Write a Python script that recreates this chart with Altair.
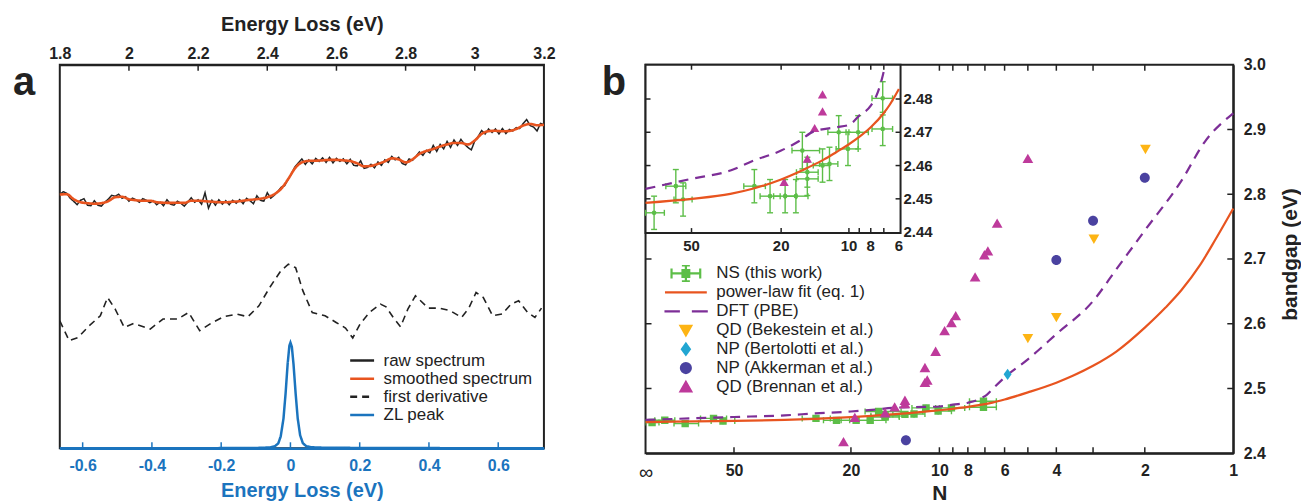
import altair as alt
import pandas as pd

FONT = "Liberation Sans"
INK = "#222222"
BLUE = "#1B74BE"
ORANGE = "#E8541F"
GREEN = "#5DBE48"
PURPLE = "#7D2E97"
MAGENTA = "#BE3A9B"
YELLOW = "#FDB414"
CYAN = "#22A6D2"
NAVY = "#4A42A0"

# ================= Panel a data =================
top_ticks_E = [1.8, 2.0, 2.2, 2.4, 2.6, 2.8, 3.0, 3.2]
bot_ticks_E = [-0.6, -0.4, -0.2, 0.0, 0.2, 0.4, 0.6]

raw_E = [round(1.80 + 0.01 * i, 2) for i in range(141)]
raw_I = [255, 257.5, 256, 251, 248, 244.5, 249, 250.5, 244, 243.5,
         248.5, 244, 243, 247, 250, 254, 253, 255, 251, 252.5,
         248, 251, 249.5, 247, 250.5, 249, 246.5, 248.5, 244.5, 247,
         243.5, 249.5, 245, 244, 248, 246, 243, 247, 251.5, 247,
         249.5, 245, 256.5, 241, 249, 244, 249.5, 245, 248.5, 244.5,
         249, 246, 249.5, 245.5, 251, 248.5, 245.5, 253.5, 249, 248,
         256.5, 251, 254, 257.5, 262, 263.5, 270, 275.5, 282.5, 286.5,
         290.5, 285, 289.5, 285.5, 291, 288, 291.5, 287, 292, 286.5,
         291, 288, 290.5, 285.5, 290, 284, 283.5, 288.5, 281, 282,
         285, 281.5, 287.5, 284, 289.5, 287, 293, 289.5, 292, 286,
         284.5, 290.5, 289, 293, 297.5, 294, 299, 296.5, 304, 298,
         305, 300.5, 308, 302, 309.5, 304, 310, 305.5, 302, 299.5,
         308.5, 313, 319, 315.5, 320.5, 317, 320.5, 315.5, 321, 316,
         320, 318.5, 322, 321, 326, 330, 324, 322.5, 318.5, 326,
         325]

smooth_E = [round(1.80 + 0.02 * i, 2) for i in range(71)]
smooth_I = [254.7, 255, 250, 247, 246, 245.5, 246, 248, 252, 252.5,
            250, 249, 248.5, 248.5, 247, 246.5, 246.3, 246.5, 246.3, 248.5,
            248.5, 248, 247.5, 247, 247, 247.5, 248, 249, 249.7, 250.5,
            252, 255, 260.5, 270, 281, 287, 288.5, 288.7, 289, 289.5,
            289.5, 289, 288.3, 286, 283, 283.5, 285.5, 288, 291, 290,
            287, 290, 295.5, 298.5, 300.5, 303, 305, 306.5, 306.5, 305,
            309, 315.5, 318.3, 318.7, 318.2, 318.5, 320.5, 324, 325.5, 324.3,
            324.7]

deriv_E = [-0.666, -0.639, -0.613, -0.581, -0.549, -0.528, -0.506, -0.48, -0.453, -0.405,
           -0.368, -0.326, -0.294, -0.262, -0.23, -0.193, -0.155, -0.123, -0.091, -0.06,
           -0.028, -0.006, 0.015, 0.036, 0.063, 0.1, 0.132, 0.159, 0.18, 0.201,
           0.228, 0.26, 0.276, 0.297, 0.318, 0.339, 0.361, 0.398, 0.43, 0.462,
           0.494, 0.515, 0.536, 0.557, 0.584, 0.611, 0.637, 0.659, 0.685, 0.706, 0.725]
deriv_I = [128, 108, 111.3, 123, 133, 151.3, 139.7, 121.3, 125.3, 119.7,
           129.7, 129.7, 136.3, 118, 125.3, 132, 134.7, 132, 143, 161.3,
           178, 184.7, 181.3, 158, 136.3, 133, 126.3, 120.7, 110.7, 124.7,
           136.3, 144.7, 142, 131.3, 122, 139.7, 153, 140.7, 140.7, 138,
           131.3, 140.7, 156.3, 151.3, 133, 134.7, 144.7, 148, 136.3, 131.3, 140.7]

zl_E = [-0.666, -0.3, -0.1, -0.06, -0.045, -0.035, -0.028, -0.02, -0.014, -0.008, -0.003,
        0.0, 0.004, 0.009, 0.015, 0.021, 0.028, 0.036, 0.046, 0.06, 0.1, 0.3, 0.732]
zl_I = [0, 0, 0.3, 0.8, 2, 5, 12, 30, 55, 85, 103,
        106, 102, 84, 55, 30, 13, 5, 2, 1, 0.5, 0.2, 0]

series_dom = ["raw spectrum", "smoothed spectrum", "first derivative", "ZL peak"]
series_col = [INK, ORANGE, INK, BLUE]
series_dash = [[1, 0], [1, 0], [7, 5], [1, 0]]

# ================= Panel b data =================
N_labels = [100, 50, 20, 10, 8, 6, 4, 2, 1]
N_minor = [50, 20, 10, 9, 8, 7, 6, 5, 4, 3, 2]
gap_ticks = [2.4, 2.5, 2.6, 2.7, 2.8, 2.9, 3.0]

fit_N = [100, 80, 50, 33.6, 26.5, 20, 17, 15, 13, 11.4, 10, 9, 8, 7, 6.6, 6, 5, 4, 3.5, 3, 2.5, 2, 1.7, 1.5, 1.3, 1.15, 1]
fit_E = [2.4482, 2.4488, 2.4500, 2.4515, 2.4531, 2.4558, 2.4578, 2.4596, 2.4617, 2.4640, 2.4664, 2.4686,
         2.4715, 2.4758, 2.4782, 2.4830, 2.494, 2.509, 2.520, 2.535, 2.557, 2.594, 2.625, 2.652, 2.69, 2.73, 2.778]

dft_N = [100, 80, 50, 33.6, 26.5, 20, 16.5, 14.4, 11.4, 10, 9, 8, 7.45, 7.08, 6.9, 6.5, 6, 5, 4, 3, 2.5, 2, 1.5, 1.25, 1]
dft_E = [2.4515, 2.453, 2.456, 2.4585, 2.4615, 2.4645, 2.4675, 2.4702, 2.4715, 2.4722, 2.475, 2.478,
         2.482, 2.487, 2.4903, 2.502, 2.517, 2.545, 2.584, 2.635, 2.684, 2.744, 2.821, 2.881, 2.925]

ns_N = [95, 86, 73.3, 58.7, 54.5, 26.3, 22.4, 19.2, 17.2, 16.1, 15.3, 15.3, 13.1, 12.2, 11.1, 10.1, 9.1, 7.08, 7.08]
ns_E = [2.4475, 2.451, 2.4458, 2.4538, 2.4498, 2.4538, 2.4508, 2.4508, 2.4508, 2.4645, 2.458, 2.456,
        2.460, 2.4605, 2.470, 2.465, 2.470, 2.4802, 2.471]
ns_Nlo = [90, 79.5, 66, 53, 49.7, 23.5, 20.2, 17.1, 15.2, 13.5, 13.7, 13.7, 12.2, 11.2, 10.0, 9.1, 8.2, 6.4, 6.4]
ns_Nhi = [100, 93, 80, 65, 59.8, 29.3, 24.8, 21.6, 19.2, 17.9, 17.1, 17.1, 14.4, 13.5, 12.4, 11.4, 10.3, 7.9, 7.9]
ns_Eerr = [0.005, 0.005, 0.005, 0.005, 0.005, 0.005, 0.005, 0.005, 0.005, 0.0055, 0.0045, 0.005,
           0.005, 0.005, 0.005, 0.005, 0.005, 0.005, 0.005]

bek_N = [5.0, 4.0, 2.98, 1.99]
bek_E = [2.5774, 2.610, 2.731, 2.8695]
bert_N = [5.86]
bert_E = [2.5218]
akk_N = [13.0, 4.0, 3.0, 2.0]
akk_E = [2.420, 2.6985, 2.759, 2.8254]
bren_N = [21.2, 19.4, 15.3, 14.2, 13.1, 13.1, 11.2, 11.0, 11.2, 10.3, 9.6, 9.1, 8.8, 7.56, 7.03, 6.84, 6.36, 5.0]
bren_E = [2.4175, 2.455, 2.462, 2.4712, 2.4762, 2.4813, 2.509, 2.5126, 2.532, 2.557, 2.589, 2.6015,
          2.612, 2.672, 2.706, 2.712, 2.755, 2.855]

inset_N_labels = [50, 20, 10, 8, 6]
inset_N_minor = [50, 20, 10, 9, 8, 7]
inset_E_labels = [2.44, 2.45, 2.46, 2.47, 2.48]
inset_E_ticks = [2.45, 2.46, 2.47, 2.48]

grp_dom = ["NS (this work)", "power-law fit (eq. 1)", "DFT (PBE)", "QD (Bekestein et al.)",
           "NP (Bertolotti et al.)", "NP (Akkerman et al.)", "QD (Brennan et al.)"]
grp_col = [GREEN, ORANGE, PURPLE, YELLOW, CYAN, NAVY, MAGENTA]
P_ERR = "M-0.72,0H0.72M-0.72,-0.25V0.25M0.72,-0.25V0.25M0,-0.4V0.4M-0.2,-0.4H0.2M-0.2,0.4H0.2M-0.17,-0.17H0.17V0.17H-0.17Z"
P_LINE = "M-1.05,0H1.05"
P_DASH = "M-1.1,0H-0.3M0.3,0H1.1"
P_TDOWN = "M-0.27,-0.22H0.27L0,0.25Z"
P_DIAM = "M0,-0.28L0.2,0L0,0.28L-0.2,0Z"
P_CIRC = "M-0.25,0A0.25,0.25,0,1,0,0.25,0A0.25,0.25,0,1,0,-0.25,0Z"
P_TUP = "M-0.27,0.22H0.27L0,-0.25Z"
grp_shape = [P_ERR, P_LINE, P_DASH, P_TDOWN, P_DIAM, P_CIRC, P_TUP]

# ================= Panel a =================
WA, HA = 486, 385
x_top = alt.Scale(domain=[1.8, 3.2], nice=False, zero=False)
x_bot = alt.Scale(domain=[-0.666, 0.732], nice=False, zero=False)
y_a = alt.Scale(domain=[0, 385], nice=False, zero=True)

legend_a = alt.Legend(orient="none", legendX=290, legendY=289, title=None, padding=0,
                      labelFontSize=17, labelFont=FONT, labelColor=INK, symbolType="stroke",
                      symbolSize=576, symbolStrokeWidth=2.5, clipHeight=16, rowPadding=1.2,
                      labelOffset=8, labelLimit=0)
color_a = alt.Color("series:N", scale=alt.Scale(domain=series_dom, range=series_col), legend=legend_a)
dash_a = alt.StrokeDash("series:N", scale=alt.Scale(domain=series_dom, range=series_dash), legend=legend_a)

top_axis = alt.Axis(orient="top", values=top_ticks_E, format="~g", ticks=False, labelFlush=False,
                    labelOverlap=False, labelPadding=3, labelFontSize=16, labelFontWeight="bold",
                    labelColor=INK, domainColor=INK, domainWidth=2, title="Energy Loss (eV)",
                    titleFontSize=20, titleFontWeight="bold", titleColor=INK, titlePadding=11, grid=False)
bot_axis = alt.Axis(orient="bottom", values=bot_ticks_E, format="~g",
                    labelExpr="replace(datum.label, '\u2212', '-')",
                    ticks=False, labelFlush=False,
                    labelOverlap=False, labelPadding=9, labelFontSize=16, labelFontWeight="bold",
                    labelColor=BLUE, domainColor=BLUE, domainWidth=2.5, title="Energy Loss (eV)",
                    titleFontSize=20, titleFontWeight="bold", titleColor=BLUE, titleY=32,
                    titleBaseline="top", grid=False)

df_raw = pd.DataFrame({"E": raw_E, "I": raw_I, "series": "raw spectrum"})
df_smooth = pd.DataFrame({"E": smooth_E, "I": smooth_I, "series": "smoothed spectrum"})
df_deriv = pd.DataFrame({"Eb": deriv_E, "I": deriv_I, "series": "first derivative"})
df_zl = pd.DataFrame({"Eb": zl_E, "I": zl_I, "series": "ZL peak"})

raw = alt.Chart(df_raw).mark_line(strokeWidth=1.5).encode(
    x=alt.X("E:Q", scale=x_top, axis=top_axis),
    y=alt.Y("I:Q", scale=y_a, axis=None),
    color=color_a, strokeDash=dash_a)
smooth = alt.Chart(df_smooth).mark_line(strokeWidth=2.6, interpolate="monotone").encode(
    x=alt.X("E:Q", scale=x_top, axis=top_axis),
    y=alt.Y("I:Q", scale=y_a, axis=None),
    color=color_a, strokeDash=dash_a)
top_tk = alt.Chart(pd.DataFrame({"E": top_ticks_E[1:-1]})).mark_rule(color=INK, strokeWidth=1.5).encode(
    x=alt.X("E:Q", scale=x_top, axis=top_axis), y=alt.value(0), y2=alt.value(6))
a_lab = alt.Chart(pd.DataFrame({"t": ["a"]})).mark_text(
    fontSize=40, fontWeight="bold", align="left", baseline="alphabetic", color=INK, font=FONT).encode(
    text="t:N", x=alt.value(-47), y=alt.value(30))

deriv = alt.Chart(df_deriv).mark_line(strokeWidth=1.6).encode(
    x=alt.X("Eb:Q", scale=x_bot, axis=bot_axis),
    y=alt.Y("I:Q", scale=y_a, axis=None),
    color=color_a, strokeDash=dash_a)
zl = alt.Chart(df_zl).mark_line(strokeWidth=2.5).encode(
    x=alt.X("Eb:Q", scale=x_bot, axis=bot_axis),
    y=alt.Y("I:Q", scale=y_a, axis=None),
    color=color_a, strokeDash=dash_a)
bot_tk = alt.Chart(pd.DataFrame({"Eb": bot_ticks_E})).mark_rule(color=BLUE, strokeWidth=1.5).encode(
    x=alt.X("Eb:Q", scale=x_bot, axis=bot_axis), y=alt.value(HA), y2=alt.value(HA - 6))

panel_a = alt.layer(
    alt.layer(raw, smooth, top_tk, a_lab),
    alt.layer(deriv, zl, bot_tk),
).resolve_scale(x="independent").properties(width=WA, height=HA)

# ================= Panel b =================
WB, HB = 590, 390
IW, IH = 256, 169
x_main = alt.Scale(type="log", domain=[1, 100], reverse=True, nice=False)
y_main = alt.Scale(domain=[2.4, 3.0], nice=False, zero=False)
x_in = alt.Scale(type="log", domain=[5.9, 80], range=[IW, 0], nice=False)
y_in = alt.Scale(domain=[2.4397, 2.4903], range=[IH, 0], nice=False, zero=False)

x_axis_b = alt.Axis(orient="bottom", values=N_labels, format="~g",
                    labelExpr="datum.value >= 100 ? '\u221e' : datum.label",
                    ticks=False, labelFlush=False, labelOverlap=False, labelPadding=9,
                    labelFontSize={"condition": {"test": "datum.value >= 100", "value": 20}, "value": 16},
                    labelFontWeight={"condition": {"test": "datum.value >= 100", "value": "normal"}, "value": "bold"},
                    labelColor=INK, domainColor=INK, domainWidth=2, title="N", titleFontSize=21,
                    titleFontWeight="bold", titleColor=INK, titleY=29, titleBaseline="top", grid=False)
y_axis_b = alt.Axis(orient="right", values=gap_ticks, format=".1f", ticks=False, labelFlush=False,
                    labelOverlap=False, labelPadding=10, labelFontSize=16, labelFontWeight="bold",
                    labelColor=INK, domainColor=INK, domainWidth=2, title="bandgap (eV)", titleAngle=270,
                    titleFontSize=21, titleFontWeight="bold", titleColor=INK, titleX=46, titleY=190,
                    titleAlign="center", titleBaseline="top", grid=False)

X = lambda f: alt.X(f, scale=x_main, axis=x_axis_b)
Y = lambda f: alt.Y(f, scale=y_main, axis=y_axis_b)

df_ns = pd.DataFrame({"N": ns_N, "E": ns_E, "Nlo": ns_Nlo, "Nhi": ns_Nhi, "Eerr": ns_Eerr})
df_ns["Elo"] = df_ns["E"] - df_ns["Eerr"]
df_ns["Ehi"] = df_ns["E"] + df_ns["Eerr"]
capx = pd.DataFrame({"N": ns_Nlo + ns_Nhi, "E": ns_E + ns_E})
df_fit = pd.DataFrame({"N": fit_N, "E": fit_E})
df_dft = pd.DataFrame({"N": dft_N, "E": dft_E})

scat = pd.concat([
    pd.DataFrame({"N": bek_N, "E": bek_E, "grp": grp_dom[3]}),
    pd.DataFrame({"N": bert_N, "E": bert_E, "grp": grp_dom[4]}),
    pd.DataFrame({"N": akk_N, "E": akk_E, "grp": grp_dom[5]}),
    pd.DataFrame({"N": bren_N, "E": bren_E, "grp": grp_dom[6]}),
])

legend_b = alt.Legend(orient="none", legendX=19, legendY=201, title=None, padding=0,
                      labelFontSize=17, labelFont=FONT, labelColor=INK, symbolSize=1600,
                      symbolStrokeWidth=2.2, clipHeight=17, rowPadding=1, labelOffset=9,
                      labelLimit=0, symbolOpacity=1)

ns_xe = alt.Chart(df_ns).mark_rule(color=GREEN, strokeWidth=1.4, clip=True).encode(
    x=X("Nlo:Q"), x2="Nhi:Q", y=Y("E:Q"))
ns_ye = alt.Chart(df_ns).mark_rule(color=GREEN, strokeWidth=1.4, clip=True).encode(
    x=X("N:Q"), y=Y("Elo:Q"), y2="Ehi:Q")
ns_cx = alt.Chart(capx).mark_tick(orient="vertical", size=6, thickness=1.4, color=GREEN, opacity=1, clip=True).encode(
    x=X("N:Q"), y=Y("E:Q"))
ns_sq = alt.Chart(df_ns).mark_square(size=55, color=GREEN, opacity=1, clip=True).encode(
    x=X("N:Q"), y=Y("E:Q"))
dft_line = alt.Chart(df_dft).mark_line(color=PURPLE, strokeWidth=2.2, strokeDash=[10, 7], interpolate="monotone").encode(
    x=X("N:Q"), y=Y("E:Q"))
fit_line = alt.Chart(df_fit).mark_line(color=ORANGE, strokeWidth=2.2, interpolate="monotone").encode(
    x=X("N:Q"), y=Y("E:Q"))
scatter = alt.Chart(scat).mark_point(filled=True, size=1600, strokeWidth=0, opacity=1).encode(
    x=X("N:Q"), y=Y("E:Q"),
    fill=alt.Fill("grp:N", scale=alt.Scale(domain=grp_dom, range=grp_col), legend=legend_b),
    stroke=alt.Stroke("grp:N", scale=alt.Scale(domain=grp_dom, range=grp_col), legend=legend_b),
    shape=alt.Shape("grp:N", scale=alt.Scale(domain=grp_dom, range=grp_shape), legend=legend_b))
tk_bot = alt.Chart(pd.DataFrame({"N": N_minor})).mark_rule(color=INK, strokeWidth=1.5).encode(
    x=X("N:Q"), y=alt.value(HB), y2=alt.value(HB - 6))
tk_top = alt.Chart(pd.DataFrame({"N": N_minor})).mark_rule(color=INK, strokeWidth=1.5).encode(
    x=X("N:Q"), y=alt.value(0), y2=alt.value(6))
tk_l = alt.Chart(pd.DataFrame({"E": gap_ticks[1:-1]})).mark_rule(color=INK, strokeWidth=1.5).encode(
    y=Y("E:Q"), x=alt.value(0), x2=alt.value(6))
tk_r = alt.Chart(pd.DataFrame({"E": gap_ticks[1:-1]})).mark_rule(color=INK, strokeWidth=1.5).encode(
    y=Y("E:Q"), x=alt.value(WB - 6), x2=alt.value(WB))
b_lab = alt.Chart(pd.DataFrame({"t": ["b"]})).mark_text(
    fontSize=40, fontWeight="bold", align="left", baseline="alphabetic", color=INK, font=FONT).encode(
    text="t:N", x=alt.value(-44), y=alt.value(30))

main_b = alt.layer(ns_xe, ns_ye, ns_cx, ns_sq, dft_line, fit_line, scatter, tk_bot, tk_top, tk_l, tk_r, b_lab)

# ---- inset ----
XI = lambda f: alt.X(f, scale=x_in, axis=None)
YI = lambda f: alt.Y(f, scale=y_in, axis=None)
in_ns = df_ns[df_ns["N"] <= 80]
in_capx = pd.DataFrame({"N": list(in_ns["Nlo"]) + list(in_ns["Nhi"]), "E": list(in_ns["E"]) * 2})
in_capy = pd.DataFrame({"N": list(in_ns["N"]) * 2, "E": list(in_ns["Elo"]) + list(in_ns["Ehi"])})
in_fit = df_fit[(df_fit["N"] <= 80) & (df_fit["N"] >= 5.9) & (df_fit["E"] <= 2.4905)]
in_dft = df_dft[(df_dft["N"] <= 80) & (df_dft["N"] >= 5.9) & (df_dft["E"] <= 2.4905)]
df_bren = pd.DataFrame({"N": bren_N, "E": bren_E})
in_bren = df_bren[(df_bren["N"] <= 80) & (df_bren["E"] <= 2.49) & (df_bren["E"] >= 2.44)]

bg = alt.Chart(pd.DataFrame({"k": [0]})).mark_rect(fill="white", stroke=INK, strokeWidth=2).encode(
    x=alt.value(0), x2=alt.value(IW), y=alt.value(0), y2=alt.value(IH))
i_xe = alt.Chart(in_ns).mark_rule(color=GREEN, strokeWidth=1.4).encode(x=XI("Nlo:Q"), x2="Nhi:Q", y=YI("E:Q"))
i_ye = alt.Chart(in_ns).mark_rule(color=GREEN, strokeWidth=1.4).encode(x=XI("N:Q"), y=YI("Elo:Q"), y2="Ehi:Q")
i_cx = alt.Chart(in_capx).mark_tick(orient="vertical", size=6, thickness=1.4, color=GREEN, opacity=1).encode(
    x=XI("N:Q"), y=YI("E:Q"))
i_cy = alt.Chart(in_capy).mark_tick(orient="horizontal", size=6, thickness=1.4, color=GREEN, opacity=1).encode(
    x=XI("N:Q"), y=YI("E:Q"))
i_pt = alt.Chart(in_ns).mark_circle(size=22, color=GREEN, opacity=1).encode(x=XI("N:Q"), y=YI("E:Q"))
i_dft = alt.Chart(in_dft).mark_line(color=PURPLE, strokeWidth=2.2, strokeDash=[10, 7], interpolate="monotone").encode(
    x=XI("N:Q"), y=YI("E:Q"))
i_fit = alt.Chart(in_fit).mark_line(color=ORANGE, strokeWidth=2.2, interpolate="monotone").encode(
    x=XI("N:Q"), y=YI("E:Q"))
i_bren = alt.Chart(in_bren).mark_point(shape=P_TUP, size=1200, filled=True, color=MAGENTA, strokeWidth=0, opacity=1).encode(
    x=XI("N:Q"), y=YI("E:Q"))
i_tb = alt.Chart(pd.DataFrame({"N": inset_N_minor})).mark_rule(color=INK, strokeWidth=1.5).encode(
    x=XI("N:Q"), y=alt.value(IH), y2=alt.value(IH - 5))
i_tt = alt.Chart(pd.DataFrame({"N": inset_N_minor})).mark_rule(color=INK, strokeWidth=1.5).encode(
    x=XI("N:Q"), y=alt.value(0), y2=alt.value(5))
i_tl = alt.Chart(pd.DataFrame({"E": inset_E_ticks})).mark_rule(color=INK, strokeWidth=1.5).encode(
    y=YI("E:Q"), x=alt.value(0), x2=alt.value(5))
i_tr = alt.Chart(pd.DataFrame({"E": inset_E_ticks})).mark_rule(color=INK, strokeWidth=1.5).encode(
    y=YI("E:Q"), x=alt.value(IW - 5), x2=alt.value(IW))
i_ly = alt.Chart(pd.DataFrame({"E": inset_E_labels})).mark_text(
    align="left", baseline="middle", fontSize=15, fontWeight="bold", color=INK, font=FONT).encode(
    y=YI("E:Q"), x=alt.value(IW + 3), text=alt.Text("E:Q", format=".2f"))
i_lx = alt.Chart(pd.DataFrame({"N": inset_N_labels})).mark_text(
    align="center", baseline="top", fontSize=15, fontWeight="bold", color=INK, font=FONT).encode(
    x=XI("N:Q"), y=alt.value(IH + 6), text=alt.Text("N:Q", format="d"))

inset = alt.layer(bg, i_xe, i_ye, i_cx, i_cy, i_pt, i_bren, i_dft, i_fit, i_tb, i_tt, i_tl, i_tr, i_ly, i_lx)

panel_b = alt.layer(main_b, inset).resolve_scale(x="independent", y="independent").properties(width=WB, height=HB)

chart = alt.hconcat(panel_a, panel_b, spacing=102, bounds="flush").resolve_scale(
    color="independent", strokeDash="independent", fill="independent", stroke="independent", shape="independent"
).resolve_legend(
    color="independent", strokeDash="independent", fill="independent", stroke="independent", shape="independent"
).properties(
    padding={"left": 4, "top": 5, "right": 0, "bottom": 0}
).configure(font=FONT).configure_view(stroke=INK, strokeWidth=2).configure_axis(
    labelFont=FONT, titleFont=FONT, grid=False
).configure_legend(labelFont=FONT)

chart.save("out.html", embed_options={"renderer": "svg", "actions": False})
